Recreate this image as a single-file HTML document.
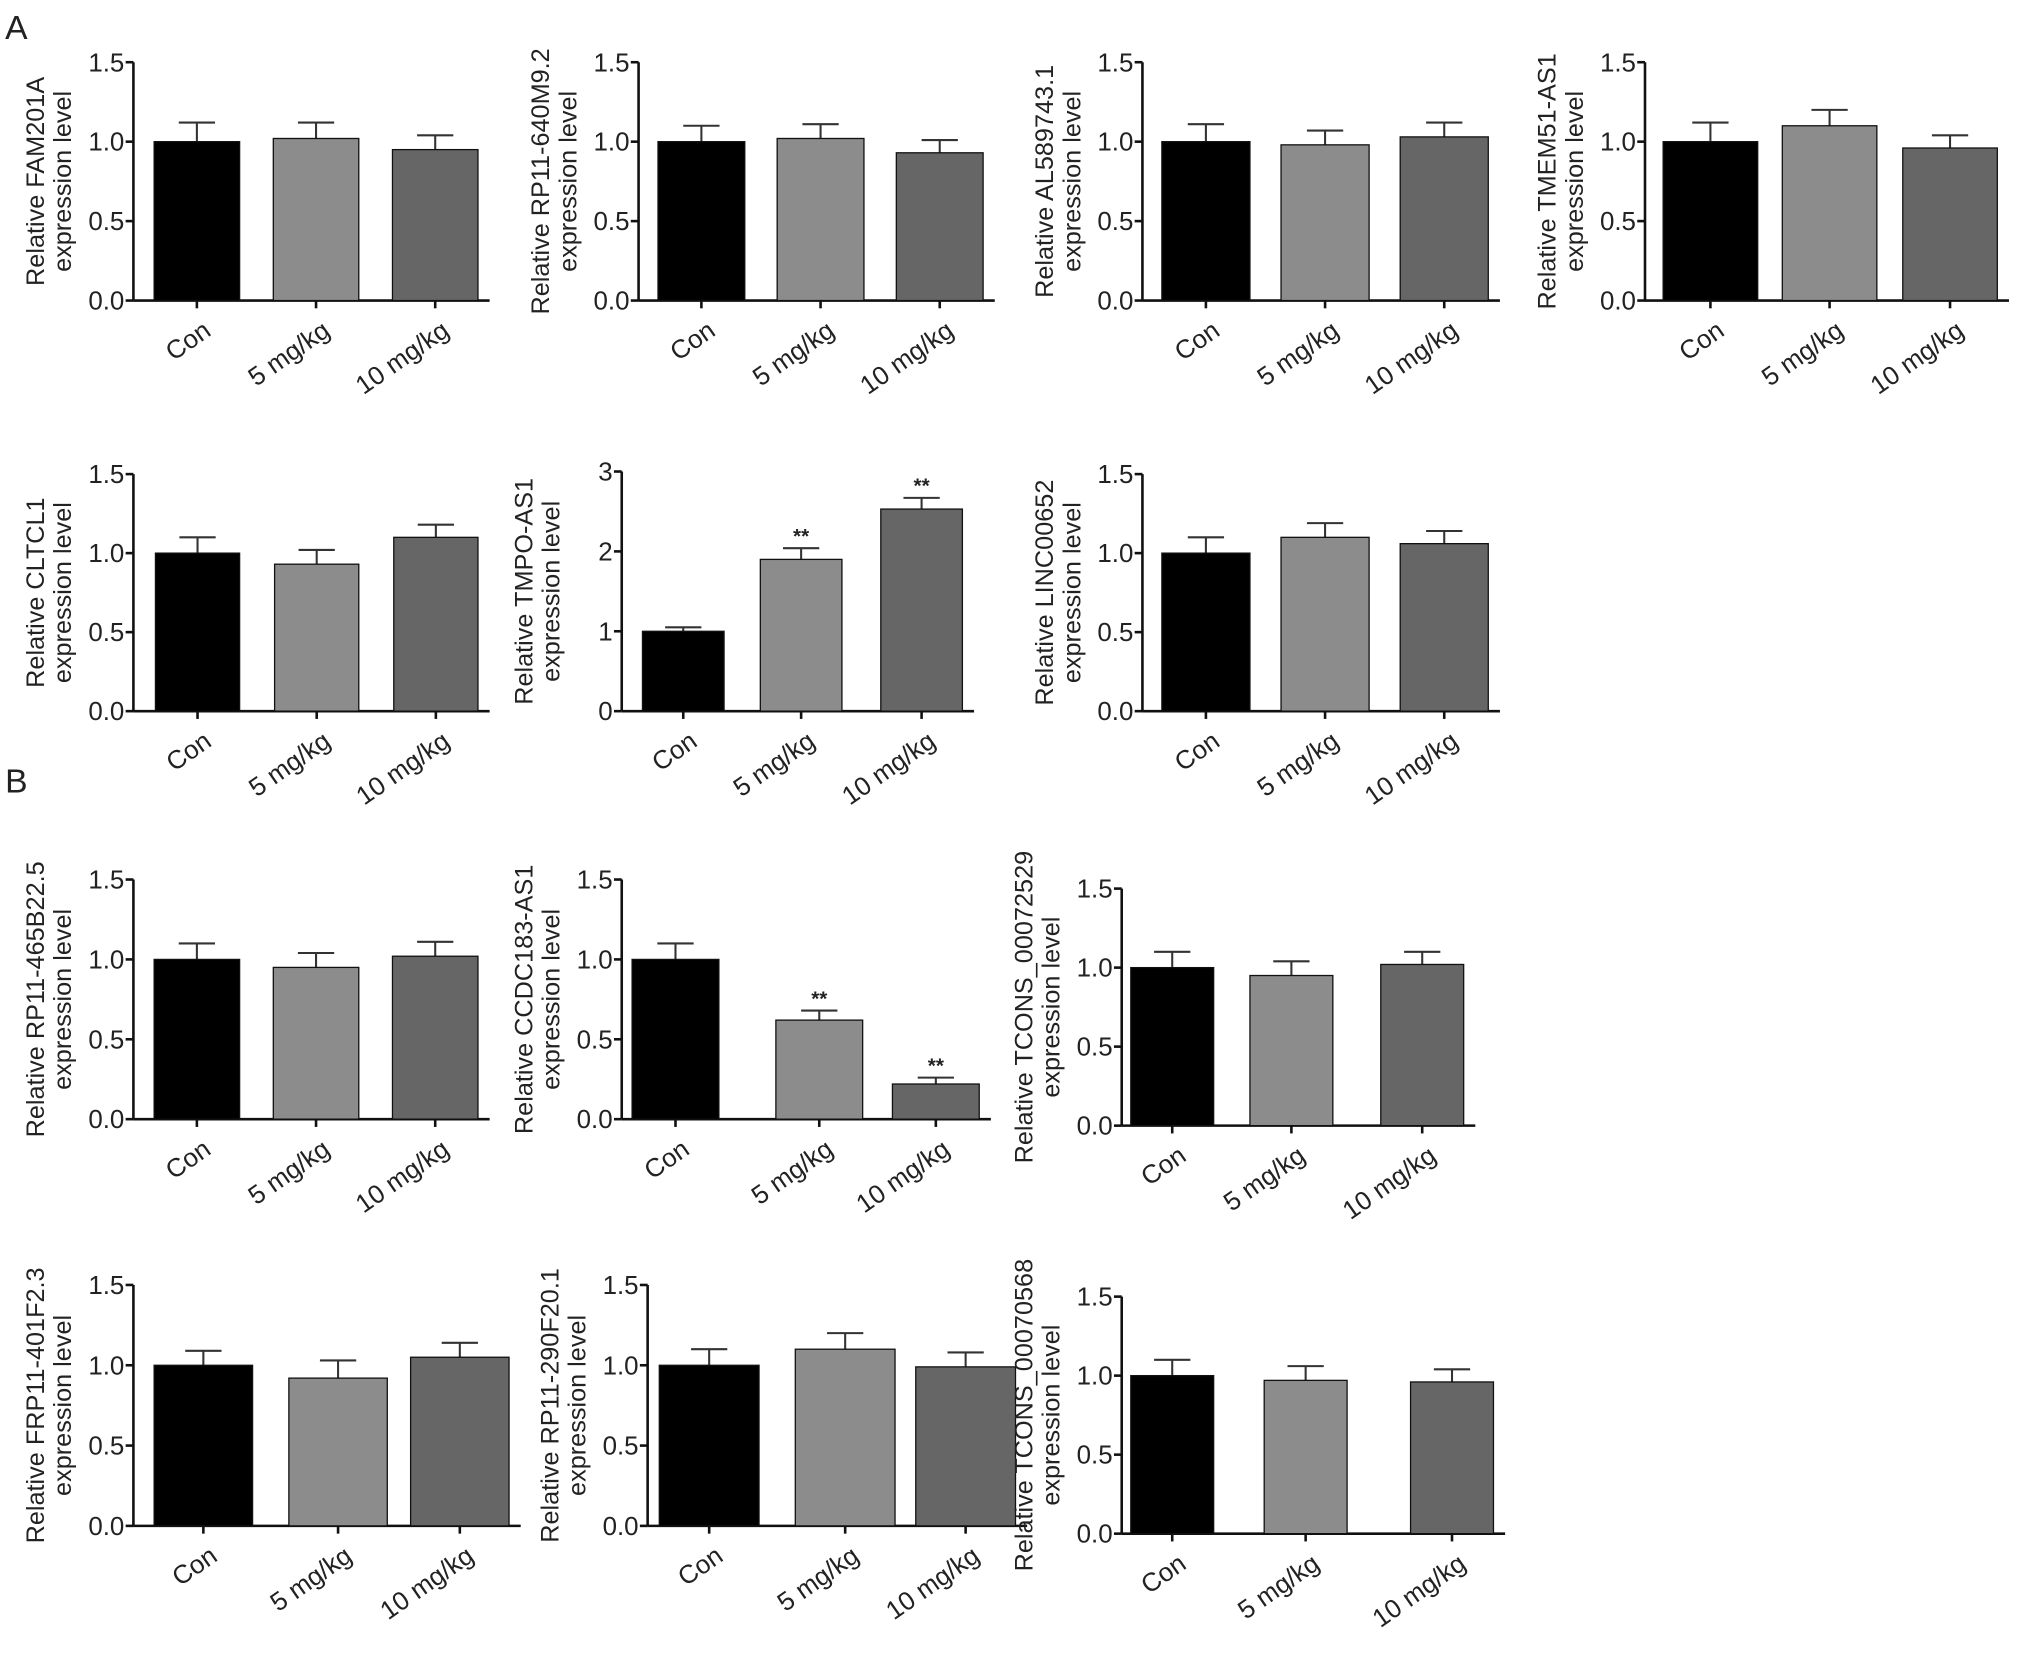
<!DOCTYPE html>
<html><head><meta charset="utf-8"><style>
html,body{margin:0;padding:0;background:#fff}
svg{display:block}
text{font-family:"Liberation Sans",Arial,sans-serif;fill:#222}
</style></head><body>
<svg id="fig" width="2031" height="1664" viewBox="0 0 1568 1284.6" xmlns="http://www.w3.org/2000/svg">
<text x="4" y="30" font-size="26">A</text>
<text x="4" y="612" font-size="26">B</text>
</svg>
<script>
const categories = ["Con", "5 mg/kg", "10 mg/kg"];
const genes = ["FAM201A","RP11-640M9.2","AL589743.1","TMEM51-AS1","CLTCL1","TMPO-AS1","LINC00652","RP11-465B22.5","CCDC183-AS1","TCONS_00072529","FRP11-401F2.3","RP11-290F20.1","TCONS_00070568"];
const means = [
 [1.0,1.02,0.95],[1.0,1.02,0.93],[1.0,0.98,1.03],[1.0,1.1,0.96],
 [1.0,0.93,1.1],[1.0,1.9,2.53],[1.0,1.1,1.06],
 [1.0,0.95,1.02],[1.0,0.62,0.22],[1.0,0.95,1.02],
 [1.0,0.92,1.05],[1.0,1.1,0.99],[1.0,0.97,0.96]];
const errors = [
 [0.12,0.1,0.09],[0.1,0.09,0.08],[0.11,0.09,0.09],[0.12,0.1,0.08],
 [0.1,0.09,0.08],[0.05,0.14,0.14],[0.1,0.09,0.08],
 [0.1,0.09,0.09],[0.1,0.06,0.04],[0.1,0.09,0.08],
 [0.09,0.11,0.09],[0.1,0.1,0.09],[0.1,0.09,0.08]];
const signif = [
 ["","",""],["","",""],["","",""],["","",""],
 ["","",""],["","**","**"],["","",""],
 ["","",""],["","**","**"],["","",""],
 ["","",""],["","",""],["","",""]];
const yMaxes = [1.5,1.5,1.5,1.5,1.5,3,1.5,1.5,1.5,1.5,1.5,1.5,1.5];
const tickLabels15 = ["0.0","0.5","1.0","1.5"];
const tickLabels3 = ["0","1","2","3"];
const layout = [
 [103,48,232,[119,211,303],66],[493,48,232,[508,600,692],67],[882,48,232,[897,989,1081],68],[1270,48,232,[1284,1376,1469],73],
 [103,366,549,[120,212,304],65],[480,364,549,[496,587,680],63],[882,366,549,[897,989,1081],68],
 [103,679,864,[119,211,303],66],[480,679,864,[488,599,689],67],[866,686,869,[873,965,1066],64],
 [103,992,1178,[119,223,317],76],[500,992,1178,[509,614,707],77],[866,1001,1184,[873,976,1089],64]];
const colors = ["#000","#8c8c8c","#666"];
const NS = "http://www.w3.org/2000/svg";
const svg = document.getElementById('fig');
function mk(tag, attrs, parent){const e=document.createElementNS(NS,tag);for(const k in attrs)e.setAttribute(k,attrs[k]);(parent||svg).appendChild(e);return e;}
genes.forEach((g,i)=>{
  const [ax,yt,yb,bx,bw]=layout[i];
  const ymax=yMaxes[i];
  const y=v=>yb-(v/ymax)*(yb-yt);
  const grp=mk('g',{});
  
  
  const xEnd=bx[2]+bw+9;
  const yax=mk('line',{x1:ax,y1:yt,x2:ax,y2:yb,stroke:'#111','stroke-width':2},grp);
  
  
  const xax=mk('line',{x1:ax,y1:yb,x2:xEnd,y2:yb,stroke:'#111','stroke-width':2},grp);
  
  
  const tl = ymax===3?tickLabels3:tickLabels15;
  tl.forEach((t,k)=>{
    const v=ymax*k/3, yy=y(v);
    mk('line',{x1:ax-6,y1:yy,x2:ax,y2:yy,stroke:'#111','stroke-width':2},grp);
    const tx=mk('text',{x:ax-7,y:yy+7,'font-size':20,'text-anchor':'end'},grp);
    tx.textContent=t;
    
    
  });
  const ly=mk('text',{transform:`translate(${ax-69},${(yt+yb)/2}) rotate(-90)`,'font-size':19.5,'text-anchor':'middle'},grp);
  ly.textContent='Relative '+g;
  
  
  const ly2=mk('text',{transform:`translate(${ax-48},${(yt+yb)/2}) rotate(-90)`,'font-size':19.5,'text-anchor':'middle'},grp);
  ly2.textContent='expression level';
  
  
  categories.forEach((c,j)=>{
    const v=means[i][j], e=errors[i][j], cx=bx[j]+bw/2;
    mk('line',{x1:cx,y1:y(v),x2:cx,y2:y(v+e),stroke:'#333','stroke-width':1.6},grp);
    mk('line',{x1:cx-14,y1:y(v+e),x2:cx+14,y2:y(v+e),stroke:'#333','stroke-width':1.6},grp);
    const r=mk('rect',{x:bx[j],y:y(v),width:bw,height:yb-y(v),fill:colors[j],stroke:'#111','stroke-width':1},grp);
    
    
    mk('line',{x1:cx,y1:yb,x2:cx,y2:yb+6,stroke:'#111','stroke-width':2},grp);
    if(signif[i][j]){
      const s=mk('text',{x:cx,y:y(v+e)-4,'font-size':16,'font-weight':'bold','text-anchor':'middle'},grp);
      s.textContent=signif[i][j];
      
      
    }
    const xl=mk('text',{transform:`translate(${cx+12},${yb+26}) rotate(-35)`,'font-size':20,'text-anchor':'end'},grp);
    xl.textContent=c;
    
    
  });
});
</script>
</body></html>
